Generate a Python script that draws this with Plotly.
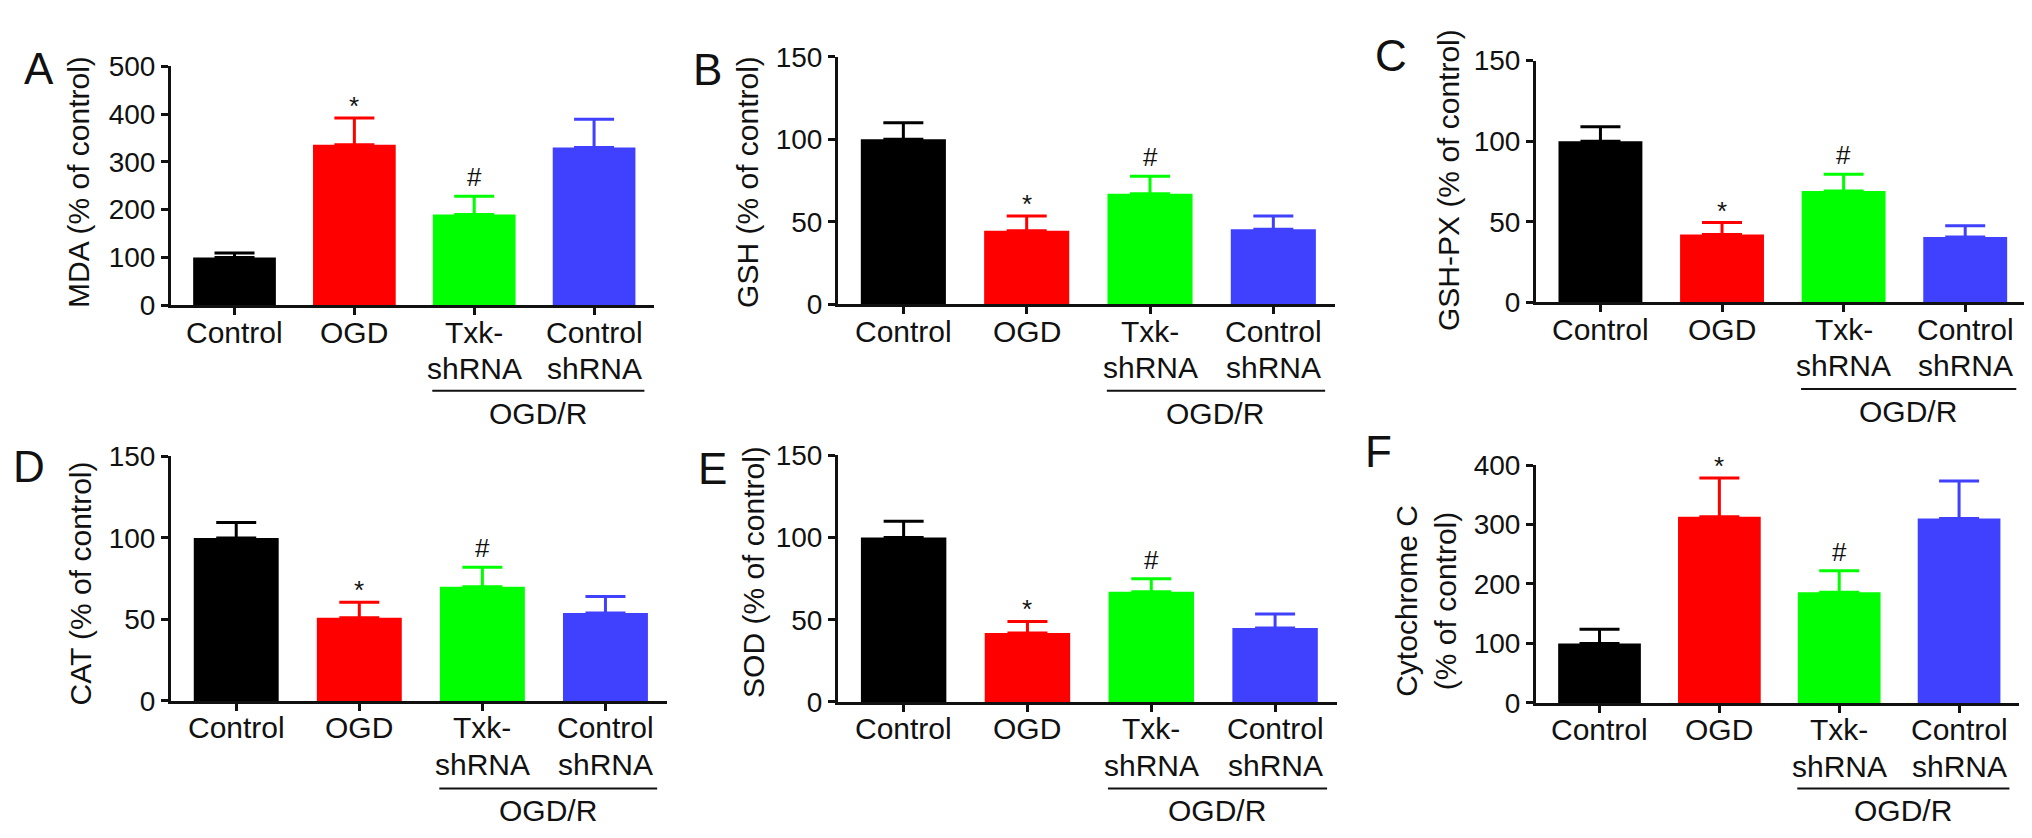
import plotly.graph_objects as go

# ---------------- data ----------------
categories = ["Control", "OGD", "Txk-<br>shRNA", "Control<br>shRNA"]
bar_colors = ["#000000", "#FF0000", "#00FF00", "#4040FF"]

mda_mean = [100, 336, 190, 330]
mda_err = [9, 56, 38, 59]
gsh_mean = [100, 44.5, 67, 45.5]
gsh_err = [10, 9, 10.5, 8]
gshpx_mean = [100, 42, 69, 40.5]
gshpx_err = [9, 7.5, 10.5, 7]
cat_mean = [100, 51, 70, 54]
cat_err = [9.5, 9.5, 12, 10]
sod_mean = [100, 42, 67, 45]
sod_err = [10, 7, 8, 8.5]
cytc_mean = [100, 313, 186, 310]
cytc_err = [24, 65, 36, 63]

panel_letters = ["A", "B", "C", "D", "E", "F"]
y_titles = ["MDA (% of control)", "GSH (% of control)", "GSH-PX (% of control)",
            "CAT (% of control)", "SOD (% of control)", "Cytochrome C<br>(% of control)"]
y_max = [500, 150, 150, 150, 150, 400]
y_dtick = [100, 50, 50, 50, 50, 100]
group_label = "OGD/R"
star_marks = ["*", "#"]   # above OGD, above Txk-shRNA

means = [mda_mean, gsh_mean, gshpx_mean, cat_mean, sod_mean, cytc_mean]
errs = [mda_err, gsh_err, gshpx_err, cat_err, sod_err, cytc_err]

# ---------------- layout geometry (pixels) ----------------
W, H = 2032, 838
# (x_left, x_right, y_top, y_bottom) of each plot area
boxes = [
    (163, 646, 45, 293),
    (830, 1327, 35, 292),
    (1528, 2018, 39, 290),
    (163, 659, 450, 704),
    (830, 1329, 449, 705),
    (1528, 2011, 459, 706),
]
letter_pos = [(31, 47), (699, 48), (1383, 34), (21, 461), (704, 463), (1370, 445)]
ytitle_pos = [(71, 165), (740, 165), (1441, 163), (72, 582), (746, 570), (1418, 600)]
bracket_y = [382, 382, 380, 795, 795, 795]
group_y = [405, 405, 403, 818, 818, 818]
LABEL_GAP = 28      # px from axis line to centre of first label line
LINE_GAP = 38       # px between label lines

FONT = "Liberation Sans, Arial, Helvetica, sans-serif"
INK = "#111"
fig = go.Figure()

annotations = []
shapes = []

for p in range(6):
    xa = "x" if p == 0 else f"x{p+1}"
    ya = "y" if p == 0 else f"y{p+1}"
    for i, cat in enumerate(categories):
        fig.add_trace(go.Bar(
            x=[cat], y=[means[p][i]],
            marker=dict(color=bar_colors[i], line=dict(width=0)),
            width=0.69,
            error_y=dict(type="data", array=[errs[p][i]], arrayminus=[0],
                         symmetric=False, color=bar_colors[i], thickness=3, width=20),
            xaxis=xa, yaxis=ya, showlegend=False, hoverinfo="skip",
        ))
    x0, x1, yt, yb = boxes[p]
    xkey = "xaxis" if p == 0 else f"xaxis{p+1}"
    ykey = "yaxis" if p == 0 else f"yaxis{p+1}"
    fig.layout[xkey] = dict(
        domain=[x0 / W, x1 / W], anchor=ya, type="category",
        categoryorder="array", categoryarray=categories,
        range=[-0.53, 3.5], showline=True, linecolor=INK, linewidth=3,
        ticks="outside", ticklen=7, tickwidth=3, tickcolor=INK,
        showticklabels=False, showgrid=False, zeroline=False,
    )
    fig.layout[ykey] = dict(
        domain=[1 - yb / H, 1 - yt / H], anchor=xa,
        range=[0, y_max[p]], dtick=y_dtick[p], tick0=0,
        showline=True, linecolor=INK, linewidth=3,
        ticks="outside", ticklen=7, tickwidth=3, tickcolor=INK,
        showgrid=False, zeroline=False,
        tickfont=dict(family=FONT, size=28, color=INK),
    )
    # category labels (one annotation per text line)
    for i, cat in enumerate(categories):
        for j, line in enumerate(cat.split("<br>")):
            annotations.append(dict(text=line, x=i, y=1 - (yb + LABEL_GAP + j * LINE_GAP) / H,
                                    xref=xa, yref="paper", showarrow=False,
                                    xanchor="center", yanchor="middle",
                                    font=dict(family=FONT, size=30, color=INK)))
    # panel letter
    lx, ly = letter_pos[p]
    annotations.append(dict(text=panel_letters[p], x=lx / W, y=1 - ly / H,
                            xref="paper", yref="paper", showarrow=False,
                            xanchor="center", yanchor="middle",
                            font=dict(family=FONT, size=44, color=INK)))
    # y title
    tx, ty = ytitle_pos[p]
    annotations.append(dict(text=y_titles[p], x=tx / W, y=1 - ty / H,
                            xref="paper", yref="paper", showarrow=False,
                            textangle=-90, xanchor="center", yanchor="middle",
                            font=dict(family=FONT, size=30, color=INK)))
    # significance marks
    for k, idx in enumerate([1, 2]):
        annotations.append(dict(text=star_marks[k], x=idx,
                                y=means[p][idx] + errs[p][idx],
                                xref=xa, yref=ya, showarrow=False,
                                xanchor="center", yanchor="bottom",
                                yshift=-5 if k == 0 else 2,
                                font=dict(family=FONT, size=26, color=INK)))
    # OGD/R bracket
    shapes.append(dict(type="line", xref=xa, yref="paper",
                       x0=1.65, x1=3.42, y0=1 - bracket_y[p] / H, y1=1 - bracket_y[p] / H,
                       line=dict(color=INK, width=2)))
    annotations.append(dict(text=group_label, x=2.53, y=1 - group_y[p] / H,
                            xref=xa, yref="paper", showarrow=False,
                            xanchor="center", yanchor="middle",
                            font=dict(family=FONT, size=30, color=INK)))

fig.update_layout(
    width=W, height=H,
    margin=dict(l=0, r=0, t=0, b=0),
    paper_bgcolor="white", plot_bgcolor="white",
    barmode="overlay",
    annotations=annotations, shapes=shapes,
    font=dict(family=FONT, color=INK),
)

fig.write_html("out.html")
